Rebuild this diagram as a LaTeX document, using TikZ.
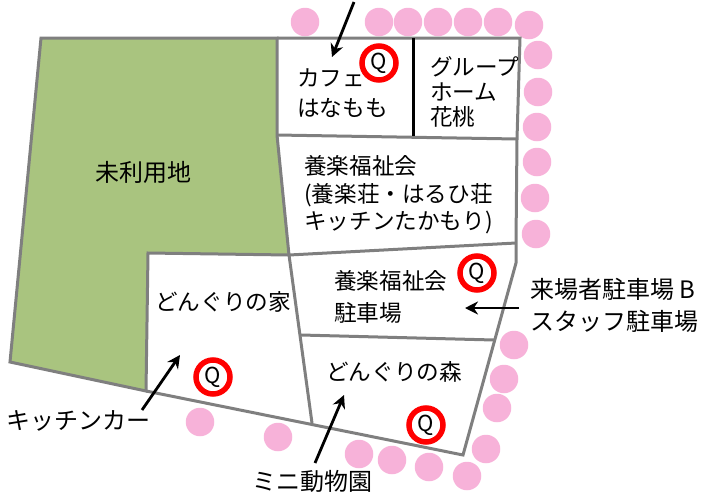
\documentclass[tikz,border=0pt]{standalone}
\usepackage{fontspec}
\setmainfont{Noto Sans CJK JP}
\usetikzlibrary{arrows.meta}
\definecolor{landgreen}{HTML}{A9C47F}
\definecolor{wallgrey}{HTML}{7F7F7F}
\definecolor{dotpink}{HTML}{F7B2D9}
\definecolor{ringred}{HTML}{FF0000}
\tikzset{
  wall/.style={draw=wallgrey,line width=3pt,line join=miter},
  dot/.style={circle,fill=dotpink,draw=none,minimum size=28.5pt,inner sep=0pt},
  qring/.style={circle,draw=ringred,line width=5.5pt,fill=white,minimum size=34pt,inner sep=0pt,font=\fontsize{22}{22}\selectfont},
  lbl/.style={anchor=west,inner sep=0pt,align=left,text=black,font=\fontsize{22.6}{#1}\selectfont},
  lbl/.default=28,
  biglbl/.style={anchor=west,inner sep=0pt,align=left,text=black,font=\fontsize{24}{#1}\selectfont},
  biglbl/.default=28,
  pointer/.style={draw=black,line width=2.8pt,-{Stealth[length=13pt,width=13pt]}}
}
\begin{document}
\begin{tikzpicture}[x=1pt,y=-1pt]
\useasboundingbox (0,0) rectangle (701,496);
% pink dots
\foreach \i/\x/\y in {a/305/22,b/379/22,c/408/22,d/438/22,e/468/22,f/498/22,g/529/25,
  h/538/55,i/538/92,j/537/127,k/537/162,l/535/198,m/536/234,
  n/514/345,o/504/379,p/497/408,q/486/449,r/467/476,s/429/467,t/392/460,u/359/454,
  v/200/422,w/278/437}
  \node[dot] (dot\i) at (\x,\y) {};
% land
\draw[wall,fill=landgreen] (41,38) -- (277,38) -- (277,135) -- (289,255) -- (148,253) -- (146,391) -- (10,362) -- cycle;
% outline and divisions
\draw[wall] (277,38) -- (520,38) -- (517,139) -- (516,243) -- (516,263) -- (463,455) -- (146,391);
\draw[wall] (277,135) -- (517,139);
\draw[wall] (289,255) -- (516,243);
\draw[wall] (289,255) -- (312,423);
\draw[wall] (301,335) -- (494,340);
\draw[draw=black,line width=3pt] (413,38) -- (413,136);
% labels
\node[biglbl] (unused) at (95,172) {未利用地};
\node[lbl=30] (cafe) at (297,93) {カフェ\\はなもも};
\node[lbl=25] (group) at (430,92) {グループ\\ホーム\\花桃};
\node[lbl=27.5] (fukushi) at (304,195) {養楽福祉会\\(養楽荘・はるひ荘\\キッチンたかもり)};
\node[lbl] (donguriie) at (155,302) {どんぐりの家};
\node[lbl=32] (parking) at (334,297) {養楽福祉会\\駐車場};
\node[lbl] (mori) at (326,372) {どんぐりの森};
\node[biglbl=32] (visitor) at (530,305) {来場者駐車場 B\\スタッフ駐車場};
\node[biglbl] (kitchencar) at (6,421) {キッチンカー};
\node[biglbl] (zoo) at (252,481) {ミニ動物園};
% Q marks
\node[qring] (q1) at (379,63) {Q};
\node[qring] (q2) at (213,377) {Q};
\node[qring] (q3) at (477,273) {Q};
\node[qring] (q4) at (426,425) {Q};
% arrows
\coordinate (cafefrom) at (354,2);
\coordinate (cafeto) at (332,57);
\coordinate (kcfrom) at (142,410);
\coordinate (kcto) at (180,355);
\coordinate (zoofrom) at (315,463);
\coordinate (zooto) at (344,395);
\coordinate (vfrom) at (519,308);
\coordinate (vto) at (465,308);
\draw[pointer] (cafefrom) -- (cafeto);
\draw[pointer] (kcfrom) -- (kcto);
\draw[pointer] (zoofrom) -- (zooto);
\draw[pointer] (vfrom) -- (vto);
\end{tikzpicture}
\end{document}
